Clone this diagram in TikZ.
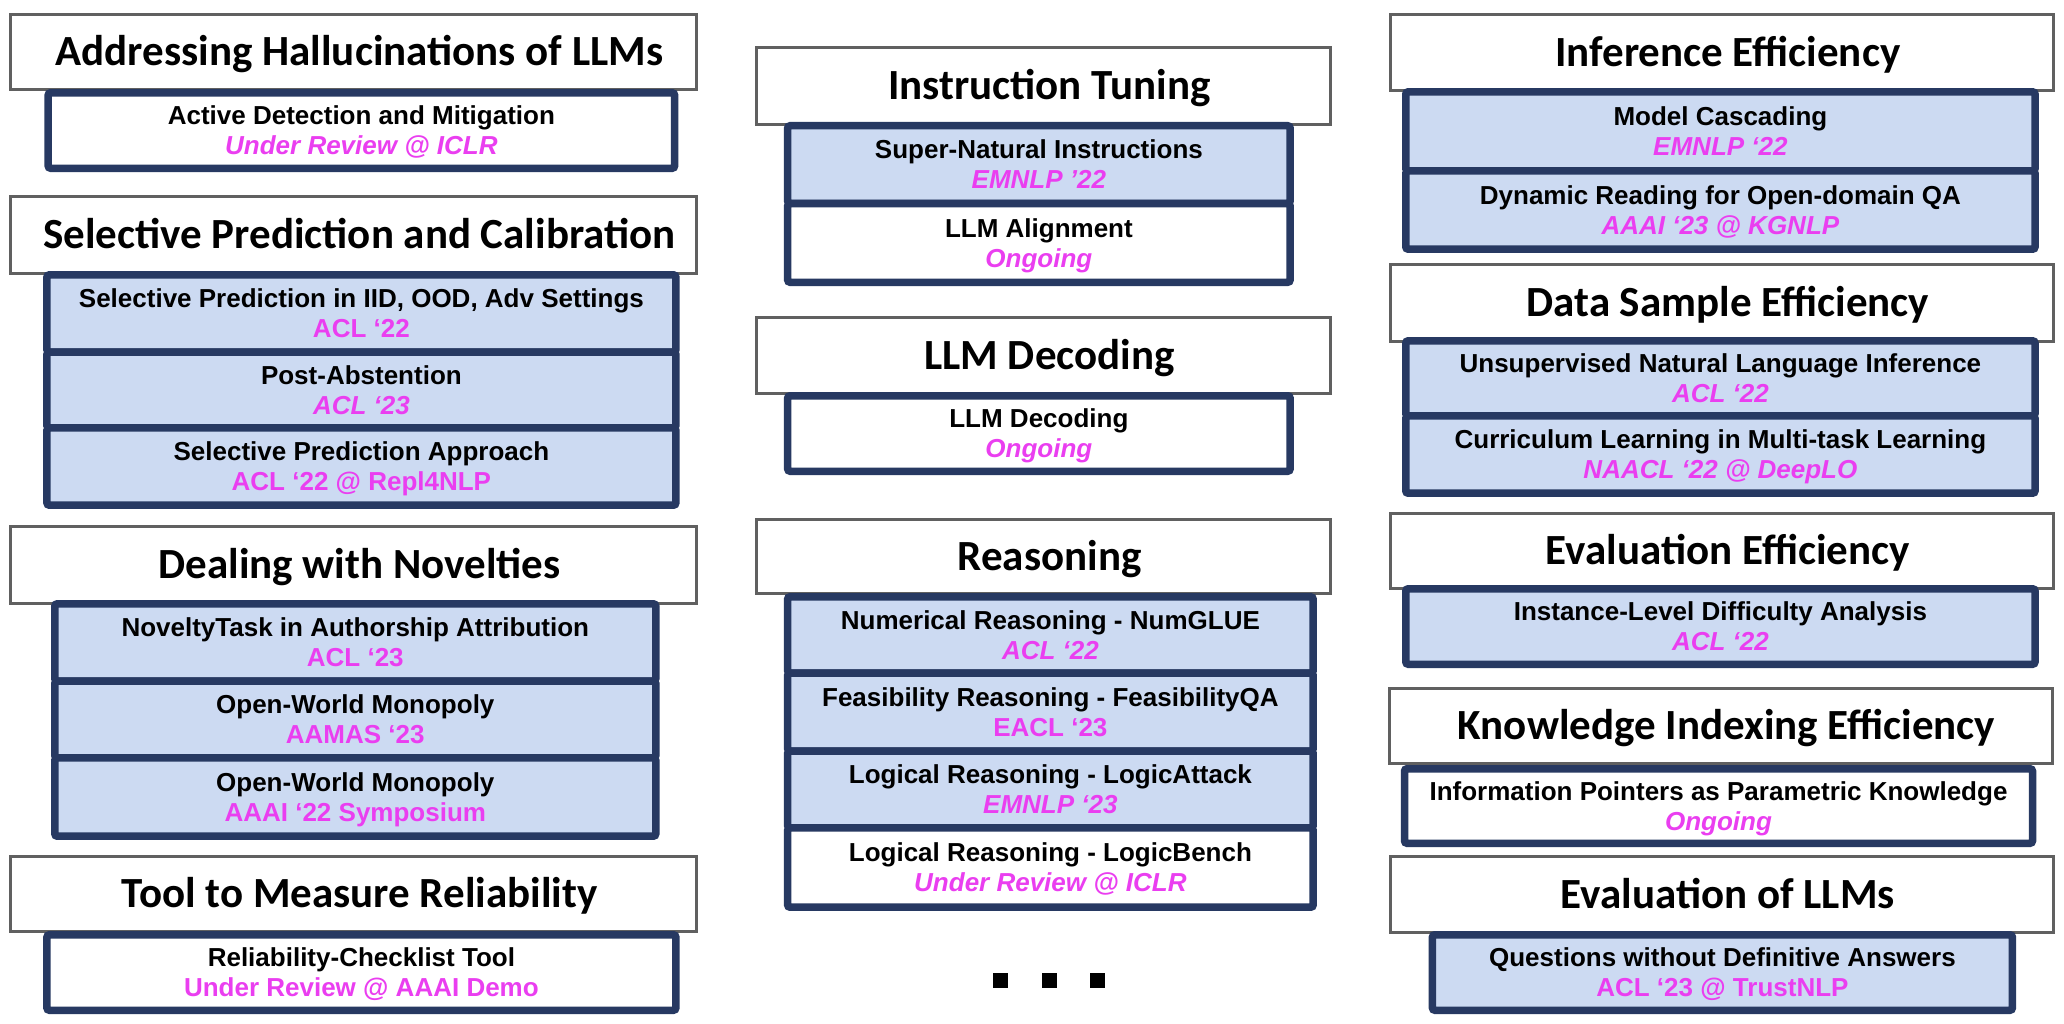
\documentclass[tikz,border=0pt]{standalone}
\usepackage{fontspec}
\newfontfamily\hfont{Carlito}
\newfontfamily\sfont{Liberation Sans}
\definecolor{navy}{RGB}{39,57,98}
\definecolor{lblue}{RGB}{204,218,242}
\definecolor{hgray}{RGB}{96,96,96}
\definecolor{mag}{RGB}{234,62,240}
\newcommand\twoln[2]{\rule{0pt}{25bp}#1\\#2\rule[-6.4bp]{0pt}{6.4bp}}
\newcommand\pubit[1]{\textcolor{mag}{\itshape #1}}
\newcommand\pubup[1]{\textcolor{mag}{#1}}
\newcommand\hpad{\hspace*{12bp}}
\tikzset{
  hdr/.style={draw=hgray, line width=3bp, fill=white, inner sep=0pt,
    text height=27bp, text depth=0bp, font=\hfont\bfseries\fontsize{43bp}{50bp}\selectfont},
  grp/.style={draw=navy, line width=7.5bp, rounded corners=2.5bp, inner sep=0pt, align=center,
    font=\sfont\bfseries\fontsize{26bp}{30bp}\selectfont},
  blu/.style={grp, fill=lblue},
  wht/.style={grp, fill=white},
  sqdot/.style={fill=black, inner sep=0pt, minimum width=15bp, minimum height=15bp}
}
\begin{document}
\begin{tikzpicture}[x=1bp,y=-1bp]
\fill[white] (0,0) rectangle (2064,1024);
\useasboundingbox (0,0) rectangle (2064,1024);

% ---------------- left column ----------------
\node[hdr, minimum width=686bp, minimum height=75bp] (h1) at (353.5,52) {\hpad Addressing Hallucinations of LLMs};
\node[wht, minimum width=626.5bp, minimum height=75.5bp] (g1) at (361.4,130.5)
  {\twoln{Active Detection and Mitigation}{\pubit{Under Review @ ICLR}}};

\node[hdr, minimum width=686bp, minimum height=77bp] (h2) at (353.5,235) {\hpad Selective Prediction and Calibration};
\node[blu, minimum width=629bp, minimum height=77.25bp] (g2a) at (361.4,313.4)
  {\twoln{Selective Prediction in IID, OOD, Adv Settings}{\pubup{ACL ‘22}}};
\node[blu, minimum width=629bp, minimum height=76bp] (g2b) at (361.4,390)
  {\twoln{Post-Abstention}{\pubit{ACL ‘23}}};
\node[blu, minimum width=629bp, minimum height=77.25bp] (g2c) at (361.4,466.6)
  {\twoln{Selective Prediction Approach}{\pubup{ACL ‘22 @ Repl4NLP}}};

\node[hdr, minimum width=686bp, minimum height=77bp] (h3) at (353.5,565) {\hpad Dealing with Novelties};
\node[blu, minimum width=601bp, minimum height=77.25bp] (g3a) at (355.3,642.4)
  {\twoln{NoveltyTask in Authorship Attribution}{\pubup{ACL ‘23}}};
\node[blu, minimum width=601bp, minimum height=77bp] (g3b) at (355.3,719.5)
  {\twoln{Open-World Monopoly}{\pubup{AAMAS ‘23}}};
\node[blu, minimum width=601bp, minimum height=78.25bp] (g3c) at (355.3,797.1)
  {\twoln{Open-World Monopoly}{\pubup{AAAI ‘22 Symposium}}};

\node[hdr, minimum width=686bp, minimum height=75bp] (h4) at (353.5,894) {\hpad Tool to Measure Reliability};
\node[wht, minimum width=629bp, minimum height=75.5bp] (g4) at (361.4,972.5)
  {\twoln{Reliability-Checklist Tool}{\pubup{Under Review @ AAAI Demo}}};

% ---------------- middle column ----------------
\node[hdr, minimum width=574bp, minimum height=77bp] (h5) at (1043.5,86) {\hpad Instruction Tuning};
\node[blu, minimum width=502.5bp, minimum height=77.75bp] (g5a) at (1038.9,164.6)
  {\twoln{Super-Natural Instructions}{\pubit{EMNLP ’22}}};
\node[wht, minimum width=502.5bp, minimum height=78.75bp] (g5b) at (1038.9,242.9)
  {\twoln{LLM Alignment}{\pubit{Ongoing}}};

\node[hdr, minimum width=574bp, minimum height=76bp] (h6) at (1043.5,355.5) {\hpad LLM Decoding};
\node[wht, minimum width=502.5bp, minimum height=75.5bp] (g6) at (1038.9,433.5)
  {\twoln{LLM Decoding}{\pubit{Ongoing}}};

\node[hdr, minimum width=574bp, minimum height=74bp] (h7) at (1043.5,556.5) {\hpad Reasoning};
\node[blu, minimum width=525.6bp, minimum height=76.25bp] (g7a) at (1050.4,634.9)
  {\twoln{Numerical Reasoning - NumGLUE}{\pubit{ACL ‘22}}};
\node[blu, minimum width=525.6bp, minimum height=78bp] (g7b) at (1050.4,712)
  {\twoln{Feasibility Reasoning - FeasibilityQA}{\pubup{EACL ‘23}}};
\node[blu, minimum width=525.6bp, minimum height=77bp] (g7c) at (1050.4,789.5)
  {\twoln{Logical Reasoning - LogicAttack}{\pubit{EMNLP ‘23}}};
\node[wht, minimum width=525.6bp, minimum height=79.25bp] (g7d) at (1050.4,867.6)
  {\twoln{Logical Reasoning - LogicBench}{\pubit{Under Review @ ICLR}}};

\node[sqdot] (d1) at (1000.8,980) {};
\node[sqdot] (d2) at (1049.3,980) {};
\node[sqdot] (d3) at (1097.7,980) {};

% ---------------- right column ----------------
\node[hdr, minimum width=663bp, minimum height=76bp] (h8) at (1721.8,52.5) {\hpad Inference Efficiency};
\node[blu, minimum width=629.3bp, minimum height=79.25bp] (g8a) at (1720.4,131.4)
  {\twoln{Model Cascading}{\pubit{EMNLP ‘22}}};
\node[blu, minimum width=629.3bp, minimum height=78.25bp] (g8b) at (1720.4,210.1)
  {\twoln{Dynamic Reading for Open-domain QA}{\pubit{AAAI ‘23 @ KGNLP}}};

\node[hdr, minimum width=663bp, minimum height=77bp] (h9) at (1721.8,303) {\hpad Data Sample Efficiency};
\node[blu, minimum width=629.3bp, minimum height=75.25bp] (g9a) at (1720.4,378.4)
  {\twoln{Unsupervised Natural Language Inference}{\pubit{ACL ‘22}}};
\node[blu, minimum width=629.3bp, minimum height=77.25bp] (g9b) at (1720.4,454.6)
  {\twoln{Curriculum Learning in Multi-task Learning}{\pubit{NAACL ‘22 @ DeepLO}}};

\node[hdr, minimum width=663bp, minimum height=75bp] (h10) at (1721.8,551) {\hpad Evaluation Efficiency};
\node[blu, minimum width=629.3bp, minimum height=75.5bp] (g10) at (1720.4,626.5)
  {\twoln{Instance-Level Difficulty Analysis}{\pubit{ACL ‘22}}};

\node[hdr, minimum width=663bp, minimum height=75bp] (h11) at (1720.5,726) {\hpad Knowledge Indexing Efficiency};
\node[wht, minimum width=628bp, minimum height=74.5bp] (g11) at (1718.5,806)
  {\twoln{Information Pointers as Parametric Knowledge}{\pubit{Ongoing}}};

\node[hdr, minimum width=663bp, minimum height=76bp] (h12) at (1721.8,894.5) {\hpad Evaluation of LLMs};
\node[blu, minimum width=580bp, minimum height=75.5bp] (g12) at (1722.4,972.5)
  {\twoln{Questions without Definitive Answers}{\pubup{ACL ‘23 @ TrustNLP}}};
\end{tikzpicture}
\end{document}
